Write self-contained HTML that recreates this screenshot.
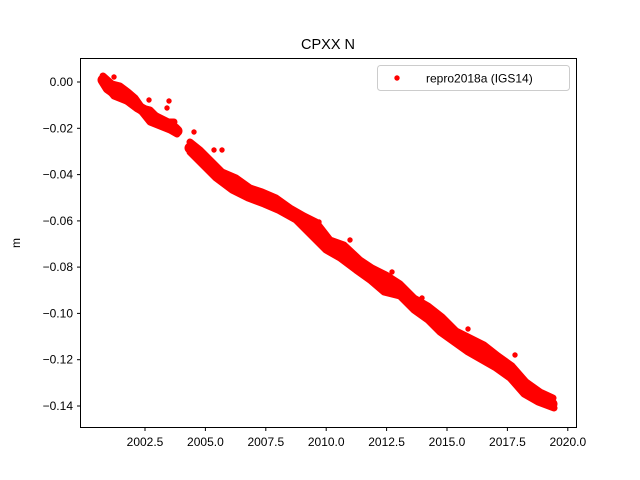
<!DOCTYPE html>
<html><head><meta charset="utf-8"><style>body{margin:0;background:#fff}svg{display:block}</style></head><body>
<svg width="640" height="480" viewBox="0 0 640 480" xmlns="http://www.w3.org/2000/svg" font-family="Liberation Sans, DejaVu Sans, sans-serif">
<rect width="640" height="480" fill="#fff"/>
<text x="328" y="49" font-size="14.5" text-anchor="middle">CPXX N</text>
<g stroke="#f00" fill="none" stroke-linecap="round" stroke-linejoin="round">
<polyline stroke-width="11" points="103,80 108,88 115,93 122,95 130,101 138,107 145,111 152,116 160,120 168,124 175,129 177,131"/>
<polyline stroke-width="7" points="103,76 112,84 120,86 128,92 135,98 142,108 150,110 158,118 166,122 174,122"/>
<polyline stroke-width="7" points="104,84 114,96 124,100 134,104 142,112 150,122 160,126 170,130 177,134"/>
<polyline stroke-width="11" points="190,148 196,154 203,160 210,166 217,172 225,179 233,185 242,190 250,193 259,196 267,199 278,206 290,213 301,220 313,228 322,237 330,245 341,253 352,261 363,268 374,275 385,283 397,290 408,298 419,307 430,315 441,323 452,332 463,340 474,347 485,354 497,362 508,372 519,382 530,390 541,397 552,404"/>
<polyline stroke-width="7" points="190,142 200,150 210,160 222,172 236,178 250,188 262,192 276,198 290,208 304,216 316,222 330,240 344,245 360,260 372,268 386,275 400,284 414,298 428,306 442,317 456,331 470,338 484,345 498,356 512,366 526,382 540,392 553,398"/>
<polyline stroke-width="7" points="190,152 202,164 216,178 232,190 248,198 264,204 278,210 296,220 310,234 326,250 340,258 356,270 370,280 384,292 400,296 414,310 428,320 440,332 454,342 468,352 482,360 496,368 510,378 524,394 538,402 554,408"/>
</g>
<g fill="#f00">
<circle cx="114" cy="77" r="2.7"/><circle cx="149" cy="100" r="2.7"/><circle cx="167" cy="108" r="2.7"/>
<circle cx="222" cy="150" r="2.7"/><circle cx="319" cy="222" r="2.7"/><circle cx="350" cy="240" r="2.7"/>
<circle cx="392" cy="272" r="2.7"/><circle cx="515" cy="355" r="2.7"/><circle cx="169" cy="101" r="2.7"/>
<circle cx="223" cy="174" r="2.7"/><circle cx="214" cy="150" r="2.7"/><circle cx="194" cy="132" r="2.7"/>
<circle cx="422" cy="298" r="2.7"/><circle cx="468" cy="329" r="2.7"/>
</g>
<rect x="80.5" y="58.5" width="496" height="369" fill="none" stroke="#000" stroke-width="1"/>
<g stroke="#000" stroke-width="1">
<line x1="145" y1="428" x2="145" y2="431"/><line x1="205.4" y1="428" x2="205.4" y2="431"/><line x1="265.8" y1="428" x2="265.8" y2="431"/><line x1="326.2" y1="428" x2="326.2" y2="431"/><line x1="386.6" y1="428" x2="386.6" y2="431"/><line x1="447" y1="428" x2="447" y2="431"/><line x1="507.4" y1="428" x2="507.4" y2="431"/><line x1="567.8" y1="428" x2="567.8" y2="431"/>
<line x1="77" y1="82" x2="80" y2="82"/><line x1="77" y1="128.3" x2="80" y2="128.3"/><line x1="77" y1="174.6" x2="80" y2="174.6"/><line x1="77" y1="220.9" x2="80" y2="220.9"/><line x1="77" y1="267.1" x2="80" y2="267.1"/><line x1="77" y1="313.4" x2="80" y2="313.4"/><line x1="77" y1="359.7" x2="80" y2="359.7"/><line x1="77" y1="406" x2="80" y2="406"/>
</g>
<g font-size="12" text-anchor="middle">
<text x="145" y="446">2002.5</text><text x="205.4" y="446">2005.0</text><text x="265.8" y="446">2007.5</text><text x="326.2" y="446">2010.0</text><text x="386.6" y="446">2012.5</text><text x="447" y="446">2015.0</text><text x="507.4" y="446">2017.5</text><text x="567.8" y="446">2020.0</text>
</g>
<g font-size="12" text-anchor="end">
<text x="73" y="86">0.00</text><text x="73" y="132.3">−0.02</text><text x="73" y="178.6">−0.04</text><text x="73" y="224.9">−0.06</text><text x="73" y="271.1">−0.08</text><text x="73" y="317.4">−0.10</text><text x="73" y="363.7">−0.12</text><text x="73" y="410">−0.14</text>
</g>
<text x="20" y="243" font-size="12" text-anchor="middle" transform="rotate(-90 20 243)">m</text>
<rect x="377.5" y="65.5" width="192" height="25" rx="3" fill="#fff" stroke="#ccc"/>
<circle cx="397" cy="78" r="2.7" fill="#f00"/>
<text x="426" y="82.5" font-size="12">repro2018a (IGS14)</text>
</svg>
</body></html>
